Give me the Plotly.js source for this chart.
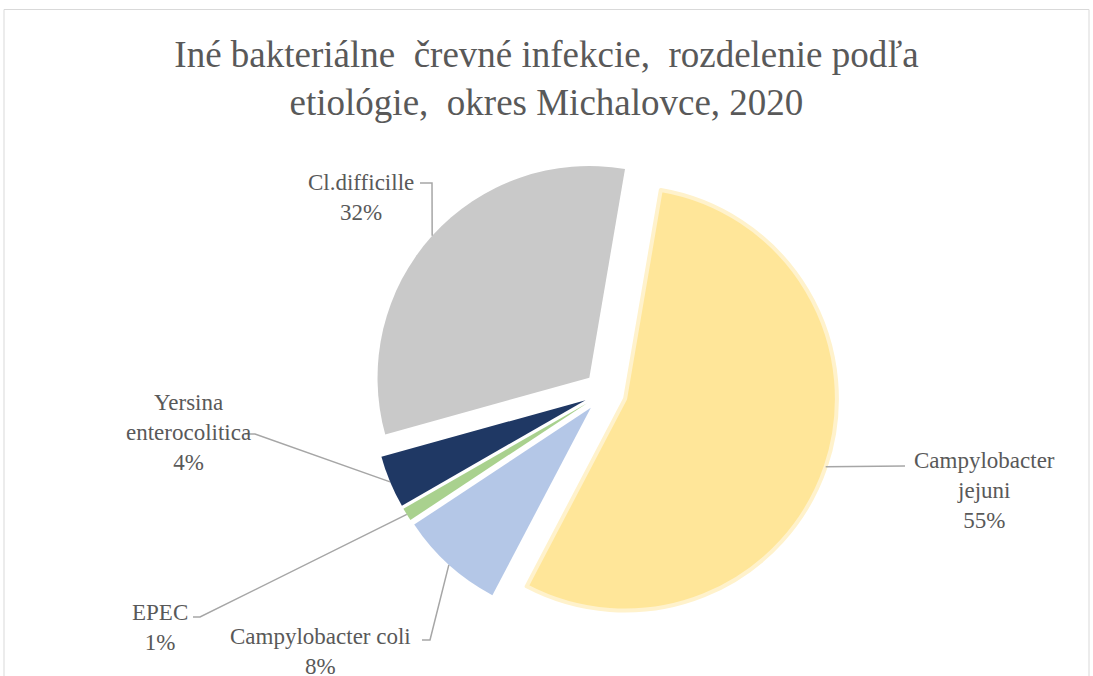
<!DOCTYPE html>
<html><head><meta charset="utf-8">
<script src="https://cdn.plot.ly/plotly-3.0.1.min.js"></script>
<style>html,body{margin:0;padding:0;background:#fff;} #chart{width:1093px;height:676px;}</style>
</head><body><div id="chart"></div>
<script>
// ---- data ----
const categories = ['Campylobacter jejuni', 'Campylobacter coli', 'EPEC', 'Yersina enterocolitica', 'Cl.difficille'];
const values = [55, 8, 1, 4, 32];
const colors = ['#FFE699', '#B4C7E7', '#A9D18E', '#1F3864', '#C9C9C9'];
const labelLines = ['Campylobacter<br>jejuni', 'Campylobacter coli', 'EPEC', 'Yersina<br>enterocolitica', 'Cl.difficille'];
const titleText = 'Iné bakteriálne  črevné infekcie,  rozdelenie podľa<br>etiológie,  okres Michalovce, 2020';

// ---- layout settings ----
const W = 1093, H = 676;
const rotation = 9.7;
const pulls = [0.1, 0.1, 0.1, 0.1, 0.1];
const domX = [0.3404, 0.7667], domY = [0.0754, 0.7648];
// label block centres and leader-line start/elbow (pixels)
const labelPos = [
  {x: 984, y: 490, sx: 905, sy: 466, ex: null, ey: null},
  {x: 320, y: 651, sx: 422, sy: 640, ex: 430, ey: 640},
  {x: 160, y: 627, sx: 193, sy: 617, ex: 200, ey: 617},
  {x: 188, y: 432, sx: 245, sy: 434, ex: 255, ey: 434},
  {x: 361, y: 197, sx: 420, sy: 183, ex: 432, ey: 183}
];
const font = 'Liberation Serif, Times New Roman, serif';
const textColor = '#595959';

// ---- geometry mirrored from plotly pie ----
const total = values.reduce((a, b) => a + b, 0);
const maxPull = Math.max(...pulls);
const cx = W * (domX[0] + domX[1]) / 2;
const cy = H * (1 - (domY[0] + domY[1]) / 2);
const r = Math.min(W * (domX[1] - domX[0]), H * (domY[1] - domY[0])) / 2 / (1 + maxPull);
const px = x => x / W, py = y => 1 - y / H;

const annotations = [];
const shapes = [];
let cum = 0;
values.forEach((v, i) => {
  const mid = (rotation + 360 * (cum + v / 2) / total) * Math.PI / 180;
  cum += v;
  const ax = cx + r * (1 + pulls[i]) * Math.sin(mid);
  const ay = cy - r * (1 + pulls[i]) * Math.cos(mid);
  const lp = labelPos[i];
  const pct = Math.round(100 * v / total) + '%';
  annotations.push({
    xref: 'paper', yref: 'paper', x: px(lp.x), y: py(lp.y),
    xanchor: 'center', yanchor: 'middle', align: 'center', showarrow: false,
    text: labelLines[i] + '<br>' + pct,
    font: {family: font, size: 23, color: textColor}
  });
  let path = 'M' + px(lp.sx) + ',' + py(lp.sy);
  if (lp.ex !== null) path += ' L' + px(lp.ex) + ',' + py(lp.ey);
  path += ' L' + px(ax) + ',' + py(ay);
  shapes.push({type: 'path', xref: 'paper', yref: 'paper', path: path,
    line: {color: '#A6A6A6', width: 1.5}});
});
shapes.push({type: 'rect', xref: 'paper', yref: 'paper', x0: 4 / W, x1: 1089 / W, y0: -0.1, y1: 1 - 9.5 / H,
  line: {color: '#D9D9D9', width: 1}, layer: 'below'});

const trace = {
  type: 'pie', labels: categories, values: values, sort: false, direction: 'clockwise',
  rotation: rotation, pull: pulls, textinfo: 'none', hoverinfo: 'label+percent',
  domain: {x: domX, y: domY},
  marker: {colors: colors, line: {color: ['#FFF2CC', '#fff', '#fff', '#fff', '#fff'], width: [4, 0, 0, 0, 0]}},
  showlegend: false
};

const layout = {
  width: W, height: H, margin: {l: 0, r: 0, t: 0, b: 0},
  paper_bgcolor: '#fff', plot_bgcolor: '#fff',
  title: {text: titleText, x: 0.5, xanchor: 'center', xref: 'paper', y: 1 - 67 / H, yref: 'container', yanchor: 'middle',
    font: {family: font, size: 37, color: textColor}},
  annotations: annotations, shapes: shapes, showlegend: false
};
Plotly.newPlot('chart', [trace], layout, {displayModeBar: false, staticPlot: true});
</script>
</body></html>
